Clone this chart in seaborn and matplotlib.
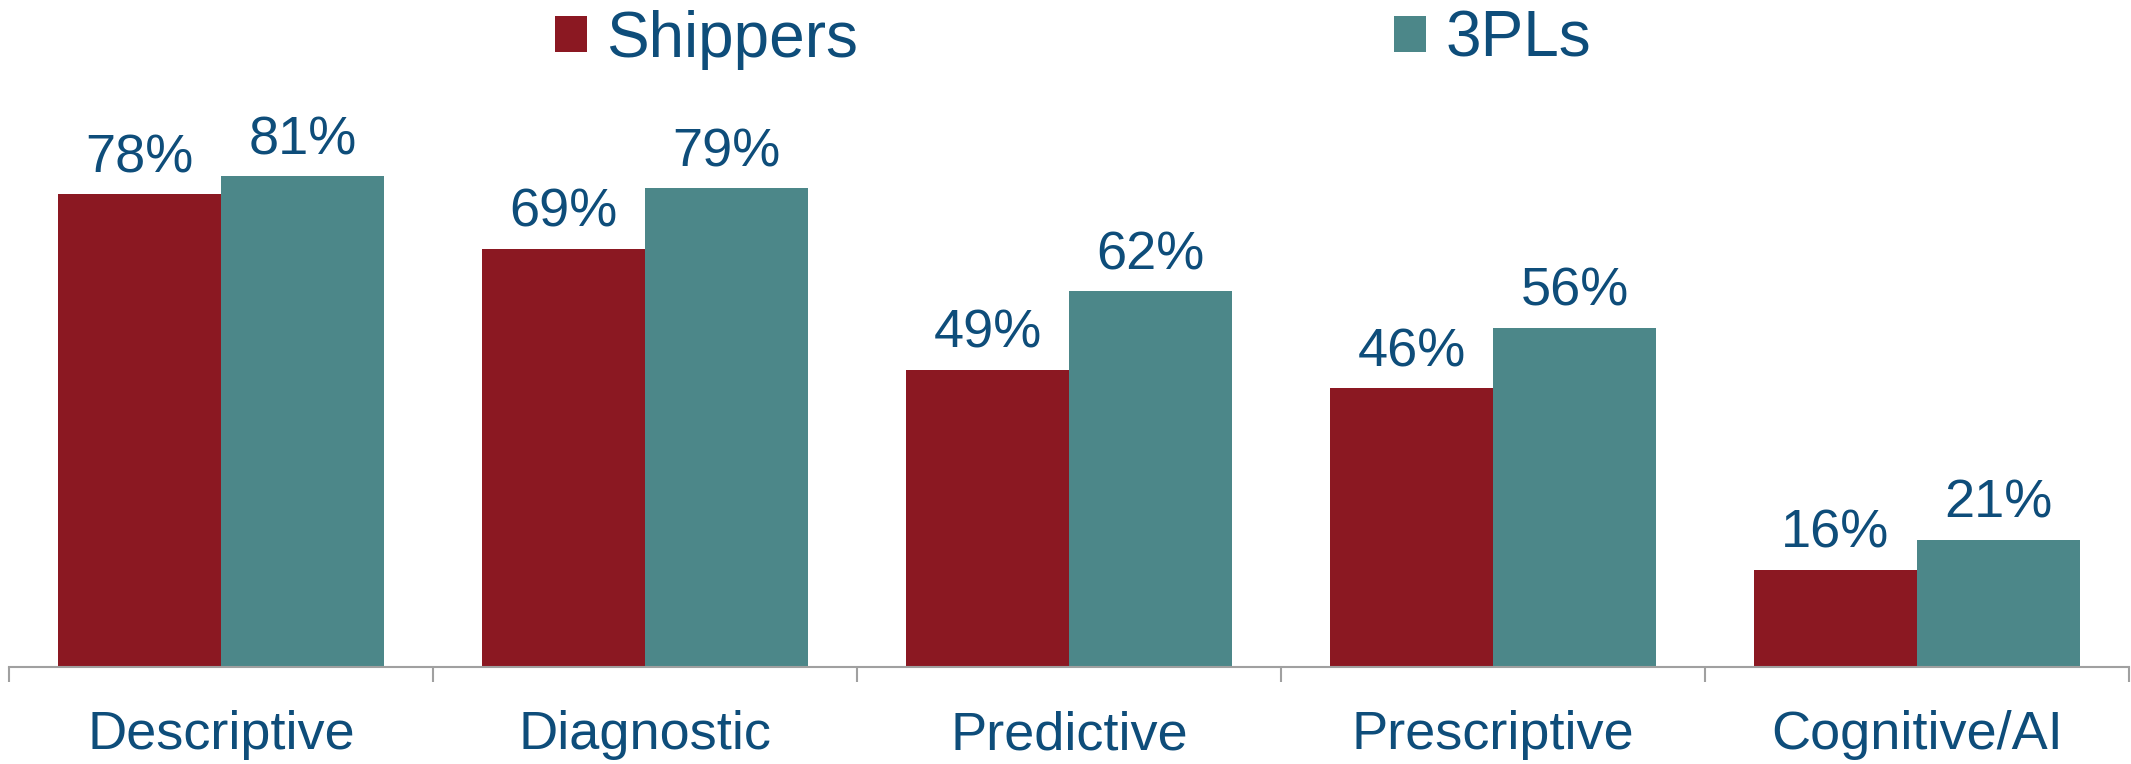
import matplotlib
matplotlib.use("Agg")
import matplotlib.pyplot as plt
import seaborn as sns
import pandas as pd
from matplotlib.patches import Patch

categories = ["Descriptive", "Diagnostic", "Predictive", "Prescriptive", "Cognitive/AI"]
series_names = ["Shippers", "3PLs"]
shippers = [78, 69, 49, 46, 16]
tpls = [81, 79, 62, 56, 21]

colors = {"Shippers": "#8B1822", "3PLs": "#4C8789"}
text_color = "#0E4D7A"

df = pd.DataFrame({
    "category": categories * 2,
    "series": [series_names[0]] * len(categories) + [series_names[1]] * len(categories),
    "value": shippers + tpls,
})

sns.set_theme(style="white")
plt.rcParams["font.family"] = ["Liberation Sans", "DejaVu Sans"]

fig = plt.figure(figsize=(21.31, 7.64), dpi=100)
ax = fig.add_axes([9 / 2131, 1 - 667 / 764, 2120 / 2131, 606 / 764])

sns.barplot(data=df, x="category", y="value", hue="series", order=categories,
            hue_order=series_names, palette=colors, width=0.77, gap=0,
            saturation=1, ax=ax, legend=False, linewidth=0)

ax.set_ylim(0, 100)
ax.set_xlim(-0.5, len(categories) - 0.5)

for cont in ax.containers:
    ax.bar_label(cont, labels=[f"{v:.0f}%" for v in cont.datavalues],
                 padding=8, fontsize=39, color=text_color)

for s in ["top", "right", "left"]:
    ax.spines[s].set_visible(False)
ax.spines["bottom"].set_color("#A0A0A0")
ax.spines["bottom"].set_linewidth(1.5)
ax.set_yticks([])
ax.set_ylabel("")
ax.set_xlabel("")

# labels at centers, tick marks at group boundaries
ax.set_xticks(range(len(categories)))
ax.set_xticklabels(categories, fontsize=39, color=text_color)
ax.tick_params(axis="x", which="major", length=0, pad=31)
ax.set_xticks([i - 0.5 for i in range(len(categories) + 1)], minor=True)
ax.tick_params(axis="x", which="minor", length=11, width=1.5, color="#A0A0A0",
               direction="out", bottom=True)

handles = [Patch(facecolor=colors[n], edgecolor="none", label=n) for n in series_names]
fig.legend(handles=handles, loc="upper center", bbox_to_anchor=(1073 / 2131, 1 + 22 / 764),
           ncol=2, frameon=False, fontsize=46, handlelength=0.5, handleheight=0.5,
           handletextpad=0.3, columnspacing=8.4, borderpad=0, labelcolor=text_color)

fig.savefig("out.png", dpi=100)
